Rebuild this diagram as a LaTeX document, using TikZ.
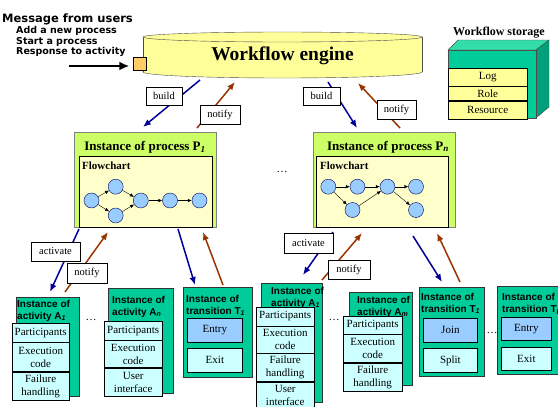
\documentclass[tikz,border=0pt]{standalone}
\usepackage{fontspec}
\setmainfont{Liberation Serif}
\setsansfont{Liberation Sans}
\newfontfamily\msgfont{DejaVu Sans}
\usepackage{xcolor}
\usetikzlibrary{arrows.meta,positioning}

\definecolor{engineyellow}{HTML}{FFFF99}
\definecolor{portorange}{HTML}{FFCC66}
\definecolor{storefront}{HTML}{00CC99}
\definecolor{storetop}{HTML}{33DDAA}
\definecolor{storeside}{HTML}{00A07A}
\definecolor{processlime}{HTML}{CCFF66}
\definecolor{chartcream}{HTML}{FFFFCC}
\definecolor{taskblue}{HTML}{99CCFF}
\definecolor{cellcyan}{HTML}{CCFFFF}
\definecolor{callblue}{HTML}{000099}
\definecolor{replybrown}{HTML}{993300}

\tikzset{
  msgline/.style={anchor=west, inner sep=0pt, font=\msgfont\bfseries\fontsize{9.5}{11}\selectfont},
  signbox/.style={draw, fill=white, inner sep=1pt, minimum height=19pt, font=\fontsize{10.5}{12}\selectfont},
  callarrow/.style={callblue, line width=1.5pt, -{Latex[length=8pt,width=6.5pt]}},
  replyarrow/.style={replybrown, line width=1.5pt, -{Latex[length=8pt,width=6.5pt]}},
  storerow/.style={draw, fill=engineyellow, minimum width=79pt, minimum height=18pt, inner sep=0pt, font=\fontsize{11}{12}\selectfont},
  procbox/.style={draw=gray, line width=1pt, fill=processlime, minimum width=142pt, minimum height=95pt, anchor=north west},
  chartbox/.style={draw, fill=chartcream, minimum width=133pt, minimum height=71pt, anchor=north west},
  proctitle/.style={font=\bfseries\fontsize{13}{15}\selectfont},
  charttitle/.style={anchor=west, inner sep=0pt, font=\bfseries\fontsize{11}{12}\selectfont},
  taskdot/.style={circle, draw=blue!35!black, fill=taskblue, minimum size=15pt, inner sep=0pt},
  flowarrow/.style={-{Latex[length=4pt,width=3.5pt]}},
  instbox/.style={draw=black!80, fill=storefront, anchor=north west},
  insttitle/.style={anchor=north west, align=left, inner sep=0pt, font=\sffamily\bfseries\fontsize{10}{12}\selectfont},
  cellbox/.style={draw, fill=cellcyan, align=center, inner sep=0pt, minimum width=#1, minimum height=19pt, font=\fontsize{11}{13}\selectfont},
  cellbox/.default=58pt,
  tallcell/.style={minimum height=28pt},
  gatebox/.style={draw, line width=0.8pt, anchor=north west, minimum width=55pt, minimum height=24pt, inner sep=0pt, font=\fontsize{11}{12}\selectfont},
  dotsmark/.style={font=\fontsize{11}{12}\selectfont}
}

\begin{document}
\begin{tikzpicture}[x=1pt, y=-1pt]
  \useasboundingbox (0,0) rectangle (558,407);

  % messages coming in from the users
  \node[anchor=west, inner sep=0pt, font=\msgfont\bfseries\fontsize{11.5}{13}\selectfont] (msg) at (2,19) {Message from users};
  \node[msgline] (msgadd) at (16,31) {Add a new process};
  \node[msgline] (msgstart) at (16,42) {Start a process};
  \node[msgline] (msgresp) at (16,52) {Response to activity};

  % the engine drum
  \draw[draw=black!70, fill=engineyellow] (282.5,72) ellipse [x radius=139.5, y radius=6];
  \fill[engineyellow] (143,37) rectangle (422,72);
  \draw[black!70] (143,37) -- (143,72) (422,37) -- (422,72);
  \draw[draw=black!70, fill=engineyellow] (282.5,37) ellipse [x radius=139.5, y radius=5];
  \node[font=\bfseries\fontsize{19.5}{22}\selectfont] (engine) at (282.5,56) {Workflow engine};

  \node[draw, fill=portorange, minimum size=13pt, inner sep=0pt] (port) at (140,63.5) {};
  \coordinate (msgtail) at (69,66);
  \draw[line width=2.5pt, -{Latex[length=10pt,width=9pt]}, shorten >=4pt] (msgtail) -- (msgtail -| port.west);

  % storage block
  \node[font=\bfseries\fontsize{12}{14}\selectfont] (storetitle) at (499,33) {Workflow storage};
  \filldraw[fill=storetop, draw=black!70] (448,50) -- (458,40) -- (549,40) -- (536,50) -- cycle;
  \filldraw[fill=storeside, draw=black!70] (536,50) -- (549,40) -- (549,107) -- (536,118) -- cycle;
  \node[draw=black!70, fill=storefront, minimum width=88pt, minimum height=68pt, anchor=north west] (store) at (448,50) {};
  \node[storerow, anchor=north west] (log) at (448,68) {Log};
  \node[storerow, minimum height=14pt, below=0pt of log] (role) {Role};
  \node[storerow, below=0pt of role] (resource) {Resource};

  % process P1
  \node[procbox] (proc1) at (74,132) {};
  \node[chartbox] (chart1) at (79,156) {};
  \node[proctitle] (proc1t) at (145,147) {Instance of process P\textsubscript{\itshape 1}};
  \node[charttitle] (chart1t) at (82,166) {Flowchart};
  \node[taskdot] (p1a) at (91.5,200.5) {};
  \node[taskdot] (p1b) at (115.7,186.7) {};
  \node[taskdot] (p1c) at (115.7,215.5) {};
  \node[taskdot] (p1d) at (140.8,200.5) {};
  \node[taskdot] (p1e) at (170,200.5) {};
  \node[taskdot] (p1f) at (199.5,200.5) {};
  \draw[flowarrow] (p1a) -- (p1b);
  \draw[flowarrow] (p1a) -- (p1c);
  \draw[flowarrow] (p1b) -- (p1d);
  \draw[flowarrow] (p1c) -- (p1d);
  \draw[flowarrow] (p1d) -- (p1e);
  \draw[flowarrow] (p1e) -- (p1f);

  \node[dotsmark] (procdots) at (282,172) {\dots};

  % process Pn
  \node[procbox] (procn) at (313,132) {};
  \node[chartbox, minimum width=132pt] (chartn) at (316,156) {};
  \node[proctitle] (procnt) at (388,147) {Instance of process P\textsubscript{\itshape n}};
  \node[charttitle] (chartnt) at (320,166) {Flowchart};
  \node[taskdot] (pna) at (328.3,186.7) {};
  \node[taskdot] (pnb) at (357.5,186.7) {};
  \node[taskdot] (pnc) at (387.5,186.7) {};
  \node[taskdot] (pnd) at (416,186.7) {};
  \node[taskdot] (pne) at (352.5,210) {};
  \node[taskdot] (pnf) at (416,210) {};
  \draw[flowarrow] (pna) -- (pnb);
  \draw[flowarrow] (pnb) -- (pnc);
  \draw[flowarrow] (pnc) -- (pnd);
  \draw[flowarrow] (pna) -- (pne);
  \draw[flowarrow] (pne) -- (pnc);
  \draw[flowarrow] (pnc) -- (pnf);

  % engine <-> processes
  \coordinate (build1s) at (200,80);  \coordinate (build1e) at (143,127);
  \coordinate (note1s) at (197,128);  \coordinate (note1e) at (235,82);
  \coordinate (buildns) at (328,82);  \coordinate (buildne) at (357,128);
  \coordinate (notens) at (400,128);  \coordinate (notene) at (358,83);
  \draw[callarrow] (build1s) -- (build1e);
  \draw[replyarrow] (note1s) -- (note1e);
  \draw[callarrow] (buildns) -- (buildne);
  \draw[replyarrow] (notens) -- (notene);
  \node[signbox, minimum width=36pt, minimum height=18pt] (build1) at (164,96) {build};
  \node[signbox, minimum width=40pt] (notify1) at (220,114.5) {notify};
  \node[signbox, minimum width=37pt, minimum height=18pt] (buildn) at (321.5,96) {build};
  \node[signbox, minimum width=39pt] (notifyn) at (396.5,109.5) {notify};

  % processes <-> activities and transitions
  \coordinate (act1s) at (79,229);   \coordinate (act1e) at (50,292);
  \coordinate (back1s) at (65,292);  \coordinate (back1e) at (108,232);
  \coordinate (tr1s) at (178,229);   \coordinate (tr1e) at (195,285);
  \coordinate (trb1s) at (223,285);  \coordinate (trb1e) at (203,232);
  \coordinate (actns) at (333,232);  \coordinate (actne) at (303,275);
  \coordinate (backns) at (322,280); \coordinate (backne) at (362,233);
  \coordinate (trns) at (413,236);   \coordinate (trne) at (442,282);
  \coordinate (trbns) at (460,282);  \coordinate (trbne) at (437,233);
  \draw[callarrow] (act1s) -- (act1e);
  \draw[replyarrow] (back1s) -- (back1e);
  \draw[callarrow] (tr1s) -- (tr1e);
  \draw[replyarrow] (trb1s) -- (trb1e);
  \draw[callarrow] (actns) -- (actne);
  \draw[replyarrow] (backns) -- (backne);
  \draw[callarrow] (trns) -- (trne);
  \draw[replyarrow] (trbns) -- (trbne);
  \node[signbox, minimum width=49pt] (activate1) at (55.5,251.5) {activate};
  \node[signbox, minimum width=40pt, minimum height=20pt] (notifya1) at (87,273) {notify};
  \node[signbox, minimum width=49pt, minimum height=20pt] (activaten) at (308.5,243) {activate};
  \node[signbox, minimum width=42pt] (notifyan) at (349,269.5) {notify};

  % activity A1 under P1
  \node[instbox, minimum width=63pt, minimum height=99pt] (act1) at (16,297) {};
  \node[insttitle] (act1t) at (17,300) {Instance of\\activity A\textsubscript{\itshape 1}};
  \node[cellbox=57pt, anchor=north west] (act1p) at (12,323) {Participants};
  \node[cellbox=57pt, minimum height=29pt, below=0pt of act1p] (act1x) {Execution\\code};
  \node[cellbox=57pt, tallcell, below=0pt of act1x] (act1f) {Failure\\handling};

  \node[dotsmark] (actdots1) at (91,320) {\dots};

  % activity An under P1
  \node[instbox, minimum width=65pt, minimum height=105pt] (actn) at (108,288) {};
  \node[insttitle] (actnt) at (112,296) {Instance of\\activity A\textsubscript{\itshape n}};
  \node[cellbox, anchor=north west] (actnp) at (104,321) {Participants};
  \node[cellbox, minimum height=27pt, below=0pt of actnp] (actnx) {Execution\\code};
  \node[cellbox, tallcell, below=0pt of actnx] (actnu) {User\\interface};

  % transition T1 under P1
  \node[instbox, minimum width=69pt, minimum height=90pt] (tran1) at (183,287) {};
  \node[insttitle] (tran1t) at (186,295) {Instance of\\transition T\textsubscript{\itshape 1}};
  \node[gatebox, fill=taskblue] (entry1) at (187,318) {Entry};
  \node[gatebox, fill=cellcyan] (exit1) at (187,348) {Exit};

  % activity A1 under Pn
  \node[instbox, minimum width=61pt, minimum height=119pt] (act1b) at (261,283) {};
  \node[insttitle] (act1bt) at (271,287) {Instance of\\activity A\textsubscript{\itshape 1}};
  \node[cellbox, anchor=north west] (act1bp) at (256,306.5) {Participants};
  \node[cellbox, minimum height=27pt, below=0pt of act1bp] (act1bx) {Execution\\code};
  \node[cellbox, tallcell, below=0pt of act1bx] (act1bf) {Failure\\handling};
  \node[cellbox, tallcell, below=0pt of act1bf] (act1bu) {User\\interface};

  \node[dotsmark] (actdots2) at (334,320) {\dots};

  % activity Am under Pn
  \node[instbox, minimum width=63pt, minimum height=93pt] (actm) at (349,292) {};
  \node[insttitle] (actmt) at (357,296) {Instance of\\activity A\textsubscript{\itshape m}};
  \node[cellbox=59pt, minimum height=18pt, anchor=north west] (actmp) at (343,316) {Participants};
  \node[cellbox=59pt, tallcell, below=0pt of actmp] (actmx) {Execution\\code};
  \node[cellbox=59pt, tallcell, below=0pt of actmx] (actmf) {Failure\\handling};

  % transitions under Pn
  \node[instbox, minimum width=65pt, minimum height=89pt] (tran1b) at (419,287) {};
  \node[insttitle] (tran1bt) at (421,293) {Instance of\\transition T\textsubscript{\itshape 1}};
  \node[gatebox, minimum width=54pt, fill=taskblue] (join) at (423,318) {Join};
  \node[gatebox, minimum width=54pt, fill=cellcyan] (split) at (423,348) {Split};

  \node[dotsmark] (trandots) at (492,333) {\dots};

  \node[instbox, minimum width=70pt, minimum height=88pt] (trank) at (497,286) {};
  \node[insttitle] (trankt) at (502,293) {Instance of\\transition T\textsubscript{\itshape k}};
  \node[gatebox, minimum width=50pt, minimum height=23pt, fill=taskblue] (entryk) at (501,317) {Entry};
  \node[gatebox, minimum width=50pt, minimum height=23pt, fill=cellcyan] (exitk) at (501,347) {Exit};
\end{tikzpicture}
\end{document}
